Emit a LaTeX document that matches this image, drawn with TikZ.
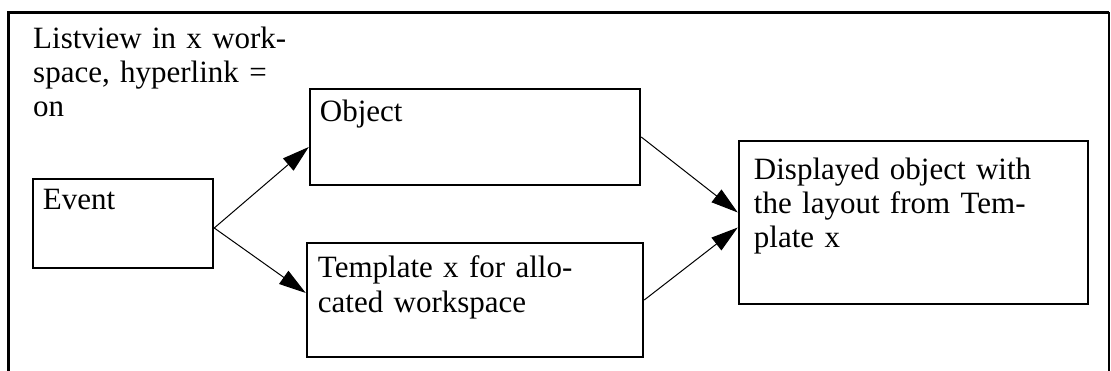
\documentclass[tikz,border=0pt]{standalone}
\usepackage{fontspec}
\setmainfont{Liberation Serif}
\usetikzlibrary{arrows.meta,calc}

\begin{document}
\begin{tikzpicture}[
  x=1pt,y=-1pt,
  every node/.style={font=\fontsize{31}{34}\selectfont},
  box/.style={draw=black,line width=2.5pt,inner sep=0pt},
  txt/.style={anchor=base west,align=left,inner sep=0pt,text width=340pt},
  edge/.style={-{Triangle[length=27pt,width=16pt]},line width=1pt}
 ]
  \useasboundingbox (0,0) rectangle (1111,371);
  % frame
  \draw[line width=3pt] (8,371) -- (8,12.5) -- (1109,12.5);
  \draw[line width=2pt] (1109,12.5) -- (1109,371);
  \node[txt] (hdr) at (33,49) {Listview in x work-\\space, hyperlink =\\on};
  % boxes
  \node[box,minimum width=180pt,minimum height=89pt] (evt) at (123,223.5) {};
  \node[box,minimum width=330pt,minimum height=96pt] (obj) at (475,137) {};
  \node[box,minimum width=336pt,minimum height=114pt] (tpl) at (475,300) {};
  \node[box,minimum width=349pt,minimum height=163pt] (dsp) at (913.5,222.5) {};
  \node[txt] (evttxt) at ($(evt.north west)+(11,32)$) {Event};
  \node[txt] (objtxt) at ($(obj.north west)+(11,34)$) {Object};
  \node[txt,font=\fontsize{31}{35}\selectfont] (tpltxt) at ($(tpl.north west)+(12,36)$)
    {Template x for allo-\\cated workspace};
  \node[txt] (dsptxt) at ($(dsp.north west)+(16,40)$)
    {Displayed object with\\the layout from Tem-\\plate x};
  % connectors
  \draw[edge] ([yshift=-4.5pt]evt.east) -- ([yshift=-10pt]obj.west);
  \draw[edge] ([yshift=-4.5pt]evt.east) -- ([yshift=7pt]tpl.west);
  \draw[edge] (obj.east) -- ([yshift=10pt]dsp.west);
  \draw[edge] (tpl.east) -- ([yshift=-5pt]dsp.west);
\end{tikzpicture}
\end{document}
